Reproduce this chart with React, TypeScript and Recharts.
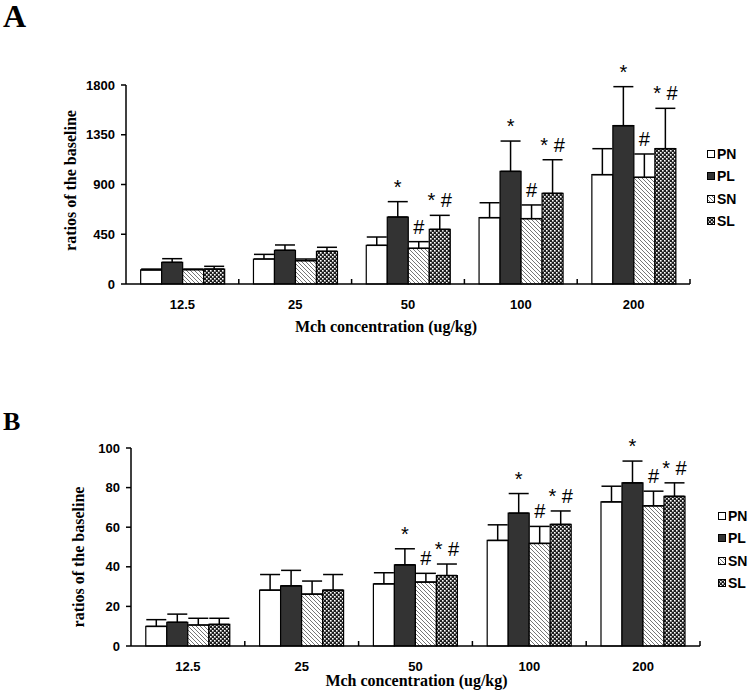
import React from "react";
import { BarChart, Bar, XAxis, YAxis, ErrorBar, LabelList } from "recharts";

const categories = ["12.5", "25", "50", "100", "200"];
const groups = ["PN", "PL", "SN", "SL"];

// panel A - values and upper error
const aPN = [127, 226, 350, 600, 989];
const aPL = [196, 305, 606, 1019, 1432];
const aSN = [130, 211, 323, 591, 965];
const aSL = [135, 296, 494, 820, 1224];
const aPNErr = [8, 42, 75, 135, 235];
const aPLErr = [33, 48, 139, 274, 353];
const aSNErr = [5, 15, 60, 124, 211];
const aSLErr = [25, 36, 127, 304, 365];
const aTicks = [0, 450, 900, 1350, 1800];

// panel B
const bPN = [9.9, 28.2, 31.4, 53.3, 72.8];
const bPL = [12, 30.4, 41, 67.1, 82.4];
const bSN = [10.6, 26.2, 32.3, 51.8, 70.8];
const bSL = [10.9, 28.2, 35.6, 61.4, 75.6];
const bPNErr = [3.4, 7.9, 5.6, 7.9, 7.9];
const bPLErr = [4.1, 7.8, 8.1, 9.9, 11];
const bSNErr = [3.4, 6.6, 4.4, 8.6, 7.4];
const bSLErr = [3.1, 7.9, 5.8, 6.8, 6.8];
const bTicks = [0, 20, 40, 60, 80, 100];

// significance marks (same for both panels)
const sigPN = ["", "", "", "", ""];
const sigPL = ["", "", "*", "*", "*"];
const sigSN = ["", "", "#", "#", "#"];
const sigSL = ["", "", "* #", "* #", "* #"];

const fills: Record<string, string> = {
  PN: "#ffffff",
  PL: "#333333",
  SN: "url(#hatch)",
  SL: "url(#check)",
};

const SANS = "'Liberation Sans', Arial, sans-serif";
const SERIF = "'Liberation Serif', 'Times New Roman', serif";

function buildRows(values: number[][], errs: number[][], sigs: string[][]) {
  return categories.map((c, i) => {
    const row: any = { name: c };
    groups.forEach((g, j) => {
      row[g] = values[j][i];
      row[g + "Err"] = [0, errs[j][i]];
      row[g + "Sig"] = sigs[j][i];
    });
    return row;
  });
}

const sigs = [sigPN, sigPL, sigSN, sigSL];
const dataA = buildRows([aPN, aPL, aSN, aSL], [aPNErr, aPLErr, aSNErr, aSLErr], sigs);
const dataB = buildRows([bPN, bPL, bSN, bSL], [bPNErr, bPLErr, bSNErr, bSLErr], sigs);
const errsA = [aPNErr, aPLErr, aSNErr, aSLErr];
const errsB = [bPNErr, bPLErr, bSNErr, bSLErr];

const makeTick = (band: number) => (props: any) => {
  const { x, y, payload } = props;
  return (
    <g>
      <text x={x} y={y + 25} textAnchor="middle" fontSize={13} fontWeight="bold" fontFamily={SANS} fill="#000">
        {payload.value}
      </text>
      <line x1={x + band / 2} x2={x + band / 2} y1={y} y2={y - 5} stroke="#000" strokeWidth={1.5} />
    </g>
  );
};

const sigLabel = (errs: number[], scale: number) => (props: any) => {
  const { x, y, width, value, index } = props;
  if (!value) return null;
  const top = Number(y) - errs[index] * scale;
  return (
    <text x={Number(x) + Number(width) / 2} y={top - 8} textAnchor="middle" fontSize={20} fontFamily={SANS} fill="#000">
      {value}
    </text>
  );
};

function GroupLegend({ left, top }: { left: number; top: number }) {
  return (
    <div style={{ position: "absolute", left, top, display: "flex", flexDirection: "column" }}>
      {groups.map((g) => (
        <div key={g} style={{ display: "flex", alignItems: "center", height: 22.3 }}>
          <svg width={8} height={8} style={{ display: "block" }}>
            <rect x={0.5} y={0.5} width={7} height={7} fill={fills[g]} stroke="#000" strokeWidth={1} />
          </svg>
          <span style={{ marginLeft: 2, fontFamily: SANS, fontWeight: "bold", fontSize: 14, color: "#000" }}>{g}</span>
        </div>
      ))}
    </div>
  );
}

type PanelProps = {
  data: any[];
  errs: number[][];
  ticks: number[];
  max: number;
  width: number;
  height: number;
  margin: { top: number; right: number; left: number; bottom: number };
  titleDx: number;
  titleDy: number;
  yTitleDx: number;
  yTitleDy: number;
};

function Panel({ data, errs, ticks, max, width, height, margin, titleDx, titleDy, yTitleDx, yTitleDy }: PanelProps) {
  const plotW = width - margin.left - 60 - margin.right;
  const plotH = height - margin.top - margin.bottom - 40;
  const band = plotW / categories.length;
  const scale = plotH / max;
  return (
    <BarChart width={width} height={height} data={data} margin={margin} barCategoryGap="13%" barGap={0}>
      <XAxis
        dataKey="name"
        height={40}
        axisLine={{ stroke: "#000", strokeWidth: 1.5 }}
        tickLine={false}
        tickSize={0}
        tickMargin={0}
        interval={0}
        tick={makeTick(band)}
        label={(p: any) => {
          const vb = p.viewBox;
          return (
            <text x={vb.x + vb.width / 2 + titleDx} y={vb.y + titleDy} textAnchor="middle" fontFamily={SERIF} fontWeight="bold" fontSize={16} fill="#000">
              Mch concentration (ug/kg)
            </text>
          );
        }}
      />
      <YAxis
        width={60}
        domain={[0, max]}
        ticks={ticks}
        interval={0}
        axisLine={{ stroke: "#000", strokeWidth: 1.5 }}
        tickLine={{ stroke: "#000", strokeWidth: 1.5 }}
        tickSize={5}
        tickMargin={6}
        tick={{ fontSize: 13, fontWeight: "bold", fontFamily: SANS, fill: "#000" }}
        label={(p: any) => {
          const vb = p.viewBox;
          const cx = vb.x + yTitleDx;
          const cy = vb.y + vb.height / 2 + yTitleDy;
          return (
            <text x={cx} y={cy} transform={`rotate(-90, ${cx}, ${cy})`} textAnchor="middle" dominantBaseline="central" fontFamily={SERIF} fontWeight="bold" fontSize={16} fill="#000">
              ratios of the baseline
            </text>
          );
        }}
      />
      {groups.map((g, j) => (
        <Bar key={g} dataKey={g} fill={fills[g]} stroke="#000" strokeWidth={1.2} isAnimationActive={false}>
          <ErrorBar dataKey={g + "Err"} width={10} stroke="#000" strokeWidth={1.5} direction="y" />
          <LabelList dataKey={g + "Sig"} content={sigLabel(errs[j], scale)} />
        </Bar>
      ))}
    </BarChart>
  );
}

export default function App() {
  return (
    <div style={{ position: "absolute", left: 0, top: 0, width: 750, height: 694, background: "#fff" }}>
      <svg width={0} height={0} style={{ position: "absolute" }}>
        <defs>
          <pattern id="hatch" width={4} height={4} patternUnits="userSpaceOnUse">
            <rect width={4} height={4} fill="#fff" />
            <path d="M0,0 L4,4 M-1,3 L1,5 M3,-1 L5,1" stroke="#666" strokeWidth={0.9} />
          </pattern>
          <pattern id="check" width={4} height={4} patternUnits="userSpaceOnUse">
            <rect width={4} height={4} fill="#1e1e1e" />
            <rect x={0} y={0} width={1.6} height={1.6} fill="#fff" />
            <rect x={2} y={2} width={1.6} height={1.6} fill="#fff" />
          </pattern>
        </defs>
      </svg>
      <div style={{ position: "absolute", left: 0, top: 0 }}>
        <Panel
          data={dataA}
          errs={errsA}
          ticks={aTicks}
          max={1800}
          width={750}
          height={340}
          margin={{ top: 85, right: 60, left: 66, bottom: 16 }}
          titleDx={-22}
          titleDy={48}
          yTitleDx={4}
          yTitleDy={-4}
        />
      </div>
      <div style={{ position: "absolute", left: 0, top: 390 }}>
        <Panel
          data={dataB}
          errs={errsB}
          ticks={bTicks}
          max={100}
          width={750}
          height={304}
          margin={{ top: 58, right: 50, left: 71, bottom: 8 }}
          titleDx={1}
          titleDy={40}
          yTitleDx={7}
          yTitleDy={10}
        />
      </div>
      <GroupLegend left={707} top={143} />
      <GroupLegend left={718} top={505} />
      <div style={{ position: "absolute", left: 3, top: 0, lineHeight: "32px", fontFamily: SERIF, fontWeight: "bold", fontSize: 32, color: "#000" }}>A</div>
      <div style={{ position: "absolute", left: 3, top: 408, lineHeight: "28px", fontFamily: SERIF, fontWeight: "bold", fontSize: 26, color: "#000" }}>B</div>
    </div>
  );
}
